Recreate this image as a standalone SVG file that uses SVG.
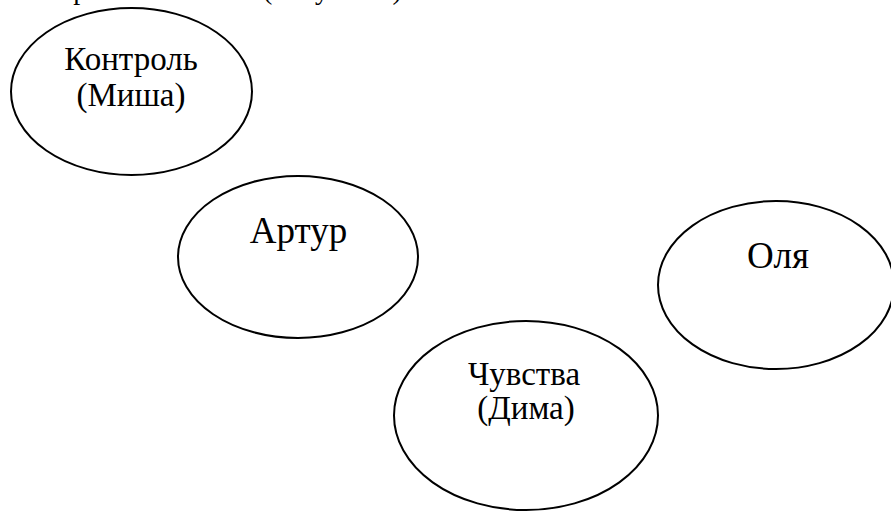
<svg xmlns="http://www.w3.org/2000/svg" width="891" height="511" viewBox="0 0 891 511">
  <style>
    .node ellipse { fill: #ffffff; stroke: #000000; stroke-width: 2; }
    .lbl { fill: #000000; text-anchor: middle; font-family: "Liberation Serif", "Times New Roman", serif; }
    .small { font-size: 33px; }
    .big { font-size: 37px; }
  </style>
  <rect x="0" y="0" width="891" height="511" fill="#ffffff"/>

  <!-- heading line, mostly above the top edge -->
  <text font-family="Liberation Serif, serif" font-size="28" y="-1"><tspan x="-8">Схема расстановки </tspan><tspan x="263">(Рисунок 1)</tspan></text>

  <g id="connectors"></g>

  <g id="node-control" class="node">
    <ellipse cx="131.5" cy="91.5" rx="120.5" ry="83.5"/>
    <text class="lbl small" x="131" y="70">Контроль</text>
    <text class="lbl small" x="131" y="106">(Миша)</text>
  </g>

  <g id="node-artur" class="node">
    <ellipse cx="298" cy="257" rx="120" ry="81"/>
    <text class="lbl big" x="298.5" y="243">Артур</text>
  </g>

  <g id="node-olya" class="node">
    <ellipse cx="776" cy="285" rx="118" ry="84"/>
    <text class="lbl big" x="778" y="268">Оля</text>
  </g>

  <g id="node-feelings" class="node">
    <ellipse cx="526" cy="415.5" rx="132" ry="94.5"/>
    <text class="lbl small" x="524" y="385">Чувства</text>
    <text class="lbl small" x="526" y="419">(Дима)</text>
  </g>
</svg>
